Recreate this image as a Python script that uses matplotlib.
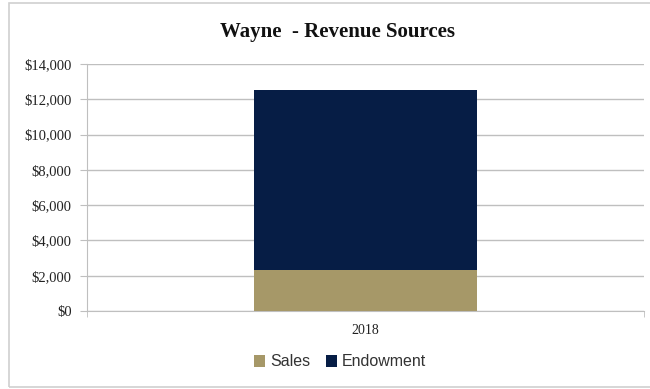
import matplotlib.pyplot as plt
from matplotlib.patches import Rectangle
from matplotlib.ticker import FuncFormatter

# Revenue by source (USD)
years = ['2018']
sales = [2350]
endowment = [10150]

sales_color = '#A69868'
endow_color = '#061D45'
grid_color = '#BFBFBF'

fig = plt.figure(figsize=(6.5, 3.89), dpi=100)
ax = fig.add_axes([87 / 650, 1 - 311 / 389, (644 - 87) / 650, (311 - 64) / 389])

x = range(len(years))
ax.bar(x, sales, 0.4, color=sales_color, label='Sales', zorder=3)
ax.bar(x, endowment, 0.4, bottom=sales, color=endow_color, label='Endowment', zorder=3)

ax.set_xlim(-0.5, len(years) - 0.5)
ax.set_ylim(0, 14000)
ax.set_yticks(range(0, 14001, 2000))
ax.yaxis.set_major_formatter(FuncFormatter(lambda v, p: '${:,.0f}'.format(v)))
ax.set_xticks(list(x))
ax.set_xticklabels(years)
# category boundary ticks
ax.set_xticks([i - 0.5 for i in range(len(years) + 1)], minor=True)
ax.grid(axis='y', color=grid_color, linewidth=1, zorder=0)

for side in ['top', 'right']:
    ax.spines[side].set_visible(False)
for side in ['left', 'bottom']:
    ax.spines[side].set_color(grid_color)
ax.tick_params(axis='y', length=5, color=grid_color, labelsize=10.5, pad=6)
ax.tick_params(axis='x', which='major', length=0, labelsize=10, pad=9)
ax.tick_params(axis='x', which='minor', length=4, color=grid_color)
for lbl in ax.get_yticklabels() + ax.get_xticklabels():
    lbl.set_fontfamily('Liberation Serif')
    lbl.set_color('#222222')

fig.text(337 / 650, 1 - 32 / 389, 'Wayne  - Revenue Sources', ha='center', va='center',
         fontfamily='Liberation Serif', fontweight='bold', fontsize=15, color='#111111')

leg = fig.legend(loc='center', bbox_to_anchor=(340 / 650, 1 - 362 / 389), ncol=2,
                 frameon=False, prop={'family': 'Liberation Sans', 'size': 11.5},
                 handlelength=0.7, handleheight=0.7, handletextpad=0.3, columnspacing=1.0)
for t in leg.get_texts():
    t.set_color('#333333')

# outer chart frame
fig.patches.append(Rectangle((9 / 650, 1 - 387 / 389), 660 / 650, 384 / 389,
                             transform=fig.transFigure, fill=False,
                             edgecolor='#D0D0D0', linewidth=1.2))

fig.savefig('out.png', dpi=100)
